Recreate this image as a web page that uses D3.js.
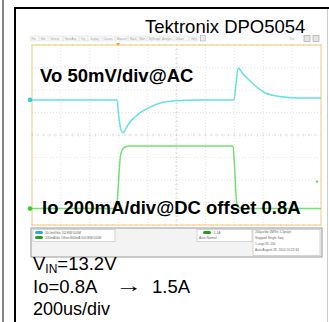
<!DOCTYPE html>
<html>
<head>
<meta charset="utf-8">
<script src="https://cdn.jsdelivr.net/npm/d3@7"></script>
<style>
  html, body { margin: 0; padding: 0; background: #fff; }
  svg { display: block; font-family: Arial, "Liberation Sans", sans-serif; }
</style>
</head>
<body>
<script>
// scope trace data
// time in us (200us/div, 10 div), Vo in mV (AC, 50mV/div), Io in A (200mA/div, offset 0.8A)
const voTime = [0, 588, 602, 616, 630, 650, 678, 713, 747, 817, 886, 990, 1163, 1398, 1412, 1426, 1460, 1522, 1612, 1730, 1855, 2000];
const voMv = [0, 0, -40, -67, -73, -64, -49, -38, -29, -16, -7, -2, 0, 0, 36, 71, 58, 38, 16, 7, 4, 4];
const ioTime = [0, 584, 595, 609, 623, 644, 678, 1391, 1401, 1412, 1426, 1474, 2000];
const ioAmp = [0.80, 0.80, 0.96, 1.23, 1.32, 1.347, 1.356, 1.356, 1.19, 0.92, 0.81, 0.80, 0.80];

const voPos = 1.56;    // channel position, div
const ioPos = -3.27;
const ioOffset = 0.8;
const trigTime = 595;
const trigLevel = 1.04;

const menuItems = ['File', 'Edit', 'Vertical', 'Horiz/Acq', 'Trig', 'Display', 'Cursors', 'Measure', 'Mask', 'Math', 'MyScope', 'Analyze', 'Utilities', 'Help'];
const noteLines = ['=13.2V', 'Io=0.8A', '\u2192', '1.5A', '200us/div'];

const W = 329, H = 322;
const grid = { left: 32, right: 321, top: 45, bottom: 225 };

const svg = d3.select('body')
  .append('svg')
  .attr('width', W)
  .attr('height', H);

// outer frame
svg.append('line').attr('x1', 3).attr('x2', 3).attr('y1', 0).attr('y2', H)
  .attr('stroke', '#333').attr('stroke-width', 1.2);
svg.append('line').attr('x1', 15).attr('x2', 15).attr('y1', 7).attr('y2', H)
  .attr('stroke', '#000').attr('stroke-width', 2);
svg.append('line').attr('x1', 14).attr('x2', W).attr('y1', 8).attr('y2', 8)
  .attr('stroke', '#000').attr('stroke-width', 2);
svg.append('line').attr('x1', 327.5).attr('x2', 327.5).attr('y1', 9).attr('y2', H)
  .attr('stroke', '#ccc').attr('stroke-width', 1);

// scales
const xScale = d3.scaleLinear().domain([0, 2000]).range([grid.left, grid.right]);
const yDiv = d3.scaleLinear().domain([-4, 4]).range([grid.bottom, grid.top]);
const yVo = v => yDiv(voPos + v / 50);
const yIo = a => yDiv(ioPos + (a - ioOffset) / 0.2);

// menu bar
const menu = svg.append('g').attr('id', 'menu');
let mx = 30;
menuItems.forEach(m => {
  const w = m.length * 1.25 + 3.5;
  menu.append('rect').attr('x', mx).attr('y', 36).attr('width', w).attr('height', 5)
    .attr('fill', '#fafafa').attr('stroke', '#ddd').attr('stroke-width', 0.5);
  menu.append('text').attr('x', mx + 1.5).attr('y', 39.8).text(m)
    .style('font-size', '2.6px').attr('fill', '#999');
  mx += w + 1;
});
menu.append('rect').attr('x', mx + 1).attr('y', 35.5).attr('width', 5).attr('height', 5.5)
  .attr('fill', '#eee').attr('stroke', '#aaa').attr('stroke-width', 0.6);
menu.append('text').attr('x', 289).attr('y', 40).text('Tek')
  .style('font-size', '3.5px').attr('fill', '#aaa');
[304, 313].forEach(x => {
  menu.append('rect').attr('x', x).attr('y', 35.5).attr('width', 6).attr('height', 6)
    .attr('fill', '#e4e4e4').attr('stroke', '#aaa').attr('stroke-width', 0.7);
});

// graticule
const g = svg.append('g').attr('id', 'grid');
d3.range(1, 10).forEach(i => {
  g.append('line').attr('x1', xScale(i * 200)).attr('x2', xScale(i * 200))
    .attr('y1', grid.top).attr('y2', grid.bottom)
    .attr('stroke', '#dcdcdc').attr('stroke-width', 0.8).attr('stroke-dasharray', '1,2');
});
d3.range(-3, 4).forEach(i => {
  g.append('line').attr('x1', grid.left).attr('x2', grid.right)
    .attr('y1', yDiv(i)).attr('y2', yDiv(i))
    .attr('stroke', '#dcdcdc').attr('stroke-width', 0.8).attr('stroke-dasharray', '1,2');
});
// center ticks
d3.range(0, 50).forEach(i => {
  const x = xScale(i * 40);
  g.append('line').attr('x1', x).attr('x2', x).attr('y1', yDiv(0) - 1.5).attr('y2', yDiv(0) + 1.5)
    .attr('stroke', '#d0d0d0').attr('stroke-width', 0.6);
});
d3.range(0, 40).forEach(i => {
  const y = yDiv(-4 + i * 0.2);
  g.append('line').attr('x1', xScale(1000) - 1.5).attr('x2', xScale(1000) + 1.5).attr('y1', y).attr('y2', y)
    .attr('stroke', '#d0d0d0').attr('stroke-width', 0.6);
});
// orange border
g.append('rect')
  .attr('x', grid.left).attr('y', grid.top)
  .attr('width', grid.right - grid.left).attr('height', grid.bottom - grid.top)
  .attr('fill', 'none').attr('stroke', '#f3c87e').attr('stroke-width', 1);
d3.range(0, 51).forEach(i => {
  const x = xScale(i * 40);
  [grid.top, grid.bottom].forEach(y => {
    g.append('line').attr('x1', x).attr('x2', x).attr('y1', y - 1).attr('y2', y + 1)
      .attr('stroke', '#f3c87e').attr('stroke-width', 0.6);
  });
});
// trigger position marker
g.append('path')
  .attr('d', `M${xScale(trigTime) - 2},${grid.top - 2}L${xScale(trigTime) + 2},${grid.top - 2}L${xScale(trigTime)},${grid.top + 1}Z`)
  .attr('fill', '#f0a030');

// traces
const voLine = d3.line().x(d => xScale(d[0])).y(d => yVo(d[1])).curve(d3.curveMonotoneX);
const ioLine = d3.line().x(d => xScale(d[0])).y(d => yIo(d[1])).curve(d3.curveMonotoneX);

svg.append('path')
  .datum(voTime.map((t, i) => [t, voMv[i]]))
  .attr('d', voLine)
  .attr('fill', 'none').attr('stroke', '#66dfe8').attr('stroke-width', 1.5);
svg.append('path')
  .datum(ioTime.map((t, i) => [t, ioAmp[i]]))
  .attr('d', ioLine)
  .attr('fill', 'none').attr('stroke', '#74e074').attr('stroke-width', 1.5);

// channel markers
svg.append('circle').attr('cx', grid.left - 2).attr('cy', yVo(0)).attr('r', 2.3).attr('fill', '#3ccbd6');
svg.append('circle').attr('cx', grid.left - 2).attr('cy', yIo(ioOffset)).attr('r', 2.3).attr('fill', '#3cc83c');
svg.append('circle').attr('cx', grid.right - 4).attr('cy', yIo(trigLevel)).attr('r', 1.2).attr('fill', '#5cd85c');

// status bar
const st = svg.append('g').attr('id', 'status');
st.append('rect').attr('x', 31).attr('y', 228).attr('width', 291).attr('height', 29)
  .attr('fill', '#f3f3f3').attr('stroke', '#999').attr('stroke-width', 1);
st.append('rect').attr('x', 33).attr('y', 229.5).attr('width', 82).attr('height', 12)
  .attr('fill', '#fff').attr('stroke', '#bbb').attr('stroke-width', 0.6);
st.append('rect').attr('x', 197).attr('y', 229.5).attr('width', 55).attr('height', 12)
  .attr('fill', '#fff').attr('stroke', '#bbb').attr('stroke-width', 0.6);
st.append('rect').attr('x', 253).attr('y', 229.5).attr('width', 67).attr('height', 26)
  .attr('fill', '#fff').attr('stroke', '#bbb').attr('stroke-width', 0.6);
st.append('rect').attr('x', 35).attr('y', 231).attr('width', 8).attr('height', 3).attr('rx', 1.5).attr('fill', '#2ab0c0');
st.append('rect').attr('x', 35).attr('y', 236).attr('width', 8).attr('height', 3).attr('rx', 1.5).attr('fill', '#22a022');
st.append('rect').attr('x', 203).attr('y', 231).attr('width', 8).attr('height', 3).attr('rx', 1.5).attr('fill', '#22a022');
const tiny = (x, y, s) => st.append('text').attr('x', x).attr('y', y).text(s)
  .style('font-size', '3.2px').attr('fill', '#666');
tiny(45, 234, '50.0mV/div        1\u03A9     BW:500M');
tiny(45, 239, '200mA/div   Offset:800mA    500   BW:500M');
tiny(212, 234, '/ 1.1A');
tiny(199, 239, 'Auto                       Normal');
tiny(255, 233, '200\u00B5s/div   5MS/s       1.5ps/pt');
tiny(255, 239, 'Stopped         Single Seq');
tiny(255, 245, '1 acqs                  RL:10k');
tiny(255, 251, 'Auto   August 28, 2014      10:22:34');

// annotations
svg.append('text').attr('x', 145).attr('y', 33).text('Tektronix DPO5054')
  .style('font-size', '18.5px').attr('fill', '#000');
svg.append('text').attr('x', 40).attr('y', 82).text('Vo 50mV/div@AC')
  .style('font-size', '18.5px').style('font-weight', 'bold').attr('fill', '#000');
svg.append('text').attr('x', 42).attr('y', 214).text('Io 200mA/div@DC offset 0.8A')
  .style('font-size', '18.5px').style('font-weight', 'bold').attr('fill', '#000');

const vin = svg.append('text').attr('x', 33).attr('y', 270).style('font-size', '18.5px').attr('fill', '#000');
vin.append('tspan').text('V');
vin.append('tspan').text('IN').attr('dy', 3).style('font-size', '12px');
vin.append('tspan').text(noteLines[0]).attr('dy', -3);
svg.append('text').attr('x', 33).attr('y', 293).text(noteLines[1])
  .style('font-size', '18.5px').attr('fill', '#000');
svg.append('text').attr('x', 115).attr('y', 292).text(noteLines[2])
  .attr('textLength', 27).attr('lengthAdjust', 'spacingAndGlyphs')
  .style('font-size', '18.5px').attr('fill', '#000');
svg.append('text').attr('x', 152).attr('y', 293).text(noteLines[3])
  .style('font-size', '18.5px').attr('fill', '#000');
svg.append('text').attr('x', 33).attr('y', 315).text(noteLines[4])
  .style('font-size', '18px').attr('fill', '#000');
</script>
</body>
</html>
